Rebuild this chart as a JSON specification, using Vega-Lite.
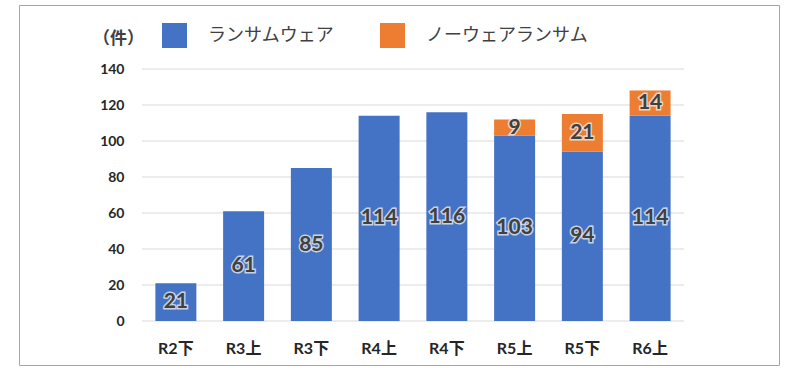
{
  "$schema": "https://vega.github.io/schema/vega-lite/v6.json",
  "width": 760,
  "height": 360,
  "autosize": {"type": "none"},
  "padding": {"left": 19, "top": 5, "right": 21, "bottom": 9},
  "background": "white",
  "config": {
    "view": {"stroke": "#a6a6a6", "strokeWidth": 1},
    "font": "Lato",
    "axis": {"grid": false}
  },
  "datasets": {
    "counts": [
      {"period": "R2下", "type": "ランサムウェア", "count": 21},
      {"period": "R3上", "type": "ランサムウェア", "count": 61},
      {"period": "R3下", "type": "ランサムウェア", "count": 85},
      {"period": "R4上", "type": "ランサムウェア", "count": 114},
      {"period": "R4下", "type": "ランサムウェア", "count": 116},
      {"period": "R5上", "type": "ランサムウェア", "count": 103},
      {"period": "R5上", "type": "ノーウェアランサム", "count": 9},
      {"period": "R5下", "type": "ランサムウェア", "count": 94},
      {"period": "R5下", "type": "ノーウェアランサム", "count": 21},
      {"period": "R6上", "type": "ランサムウェア", "count": 114},
      {"period": "R6上", "type": "ノーウェアランサム", "count": 14}
    ],
    "grid": [
      {"count": 0}, {"count": 20}, {"count": 40}, {"count": 60},
      {"count": 80}, {"count": 100}, {"count": 120}, {"count": 140}
    ]
  },
  "layer": [
    {
      "data": {"name": "grid"},
      "mark": {"type": "rule", "color": "#d9d9d9", "strokeWidth": 1},
      "encoding": {
        "y": {
          "field": "count", "type": "quantitative",
          "scale": {"domain": [-24.44, 175.56], "nice": false, "zero": false},
          "axis": {
            "title": "（件）", "titleAngle": 0, "titleX": 99, "titleY": 33,
            "titleAlign": "center", "titleBaseline": "middle",
            "titleFont": "Noto Sans CJK JP", "titleFontSize": 17, "titleFontWeight": "bold", "titleColor": "#404040",
            "values": [0, 20, 40, 60, 80, 100, 120, 140],
            "domain": false, "ticks": false, "tickSize": 0, "grid": false,
            "labelPadding": -105, "labelFont": "Lato", "labelFontSize": 14, "labelFontWeight": "bold", "labelColor": "#262626"
          }
        },
        "x": {"datum": 0, "type": "quantitative", "scale": {"domain": [-1.8155, 9.402], "nice": false, "zero": false}, "axis": null},
        "x2": {"datum": 8}
      }
    },
    {
      "data": {"name": "counts"},
      "encoding": {
        "x": {
          "field": "period", "type": "nominal",
          "scale": {"domain": ["_L", "R2下", "R3上", "R3下", "R4上", "R4下", "R5上", "R5下", "R6上", "_R"], "paddingInner": 0.395, "paddingOuter": 0.8064, "align": 0.628, "round": false},
          "axis": {
            "values": ["R2下", "R3上", "R3下", "R4上", "R4下", "R5上", "R5下", "R6上"],
            "title": null, "domain": false, "ticks": false, "tickSize": 0, "labelPadding": -25, "labelAngle": 0,
            "labelFont": "Lato, 'Noto Sans CJK JP'", "labelFontSize": 16, "labelFontWeight": "bold", "labelColor": "#262626"
          }
        },
        "y": {
          "field": "count", "type": "quantitative", "stack": "zero",
          "scale": {"domain": [-24.44, 175.56], "nice": false, "zero": false},
          "axis": {
            "title": "（件）", "titleAngle": 0, "titleX": 99, "titleY": 33,
            "titleAlign": "center", "titleBaseline": "middle",
            "titleFont": "Noto Sans CJK JP", "titleFontSize": 17, "titleFontWeight": "bold", "titleColor": "#404040",
            "values": [0, 20, 40, 60, 80, 100, 120, 140],
            "domain": false, "ticks": false, "tickSize": 0, "grid": false,
            "labelPadding": -105, "labelFont": "Lato", "labelFontSize": 14, "labelFontWeight": "bold", "labelColor": "#262626"
          }
        },
        "order": {"field": "type", "type": "nominal", "sort": "descending"}
      },
      "layer": [
        {
          "mark": {"type": "bar"},
          "encoding": {
            "color": {
              "field": "type", "type": "nominal",
              "scale": {"domain": ["ランサムウェア", "ノーウェアランサム"], "range": ["#4472C4", "#ED7D31"]},
              "legend": {
                "orient": "none", "legendX": 143, "legendY": 18, "direction": "horizontal", "title": null,
                "symbolType": "square", "symbolSize": 625, "symbolStrokeWidth": 0, "symbolOpacity": 1,
                "labelFont": "Noto Sans CJK JP", "labelFontSize": 18, "labelColor": "#404040",
                "labelOffset": 21, "columnPadding": 46, "padding": 0, "labelLimit": 300
              }
            }
          }
        },
        {
          "mark": {"type": "text", "font": "Lato", "fontSize": 21, "fontWeight": "bold", "fill": "#404040", "stroke": "#f2f2f2", "strokeWidth": 3, "strokeOpacity": 0.75, "baseline": "middle"},
          "encoding": {
            "y": {"field": "count", "type": "quantitative", "stack": "zero", "bandPosition": 0.5},
            "detail": {"field": "type", "type": "nominal"},
            "text": {"field": "count", "type": "quantitative"}
          }
        },
        {
          "mark": {"type": "text", "font": "Lato", "fontSize": 21, "fontWeight": "bold", "fill": "#404040", "baseline": "middle"},
          "encoding": {
            "y": {"field": "count", "type": "quantitative", "stack": "zero", "bandPosition": 0.5},
            "detail": {"field": "type", "type": "nominal"},
            "text": {"field": "count", "type": "quantitative"}
          }
        }
      ]
    }
  ],
  "resolve": {"scale": {"x": "independent"}}
}
